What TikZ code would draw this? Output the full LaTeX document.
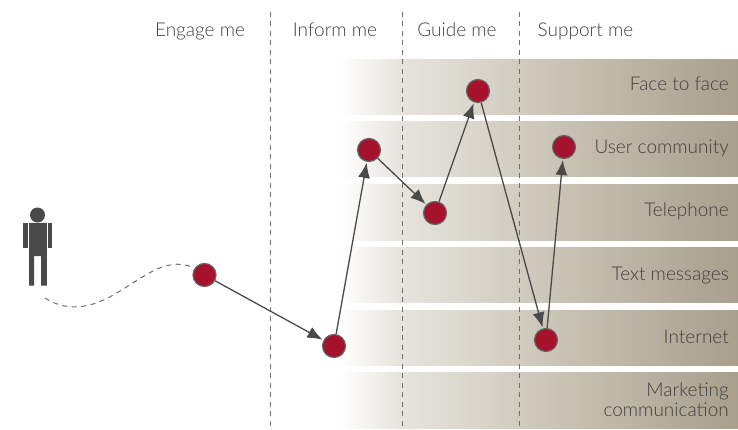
\documentclass[tikz,border=0pt]{standalone}
\usepackage{fontspec}
\setmainfont{Lato Light}
\usetikzlibrary{arrows.meta}
\definecolor{ink}{HTML}{4A4A4A}
\definecolor{label}{HTML}{404040}
\definecolor{rule}{HTML}{707070}
\definecolor{stopA}{HTML}{E6E3DC}
\definecolor{stopB}{HTML}{DEDBD2}
\definecolor{stopD}{HTML}{C5BFB0}
\definecolor{stopC}{HTML}{A89F8C}
\definecolor{dotred}{HTML}{A6122C}
\pgfdeclarehorizontalshading{bandshade}{100bp}{
  color(0bp)=(white); color(25bp)=(white); color(32.8bp)=(stopA); color(38.8bp)=(stopB); color(55bp)=(stopD); color(75bp)=(stopC); color(100bp)=(stopC)}
\tikzset{
  band/.style={shading=bandshade,draw=none},
  divider/.style={draw=rule,line width=1pt,dash pattern=on 5pt off 4.5pt},
  stagehead/.style={text=label,font=\fontsize{19}{22}\selectfont,anchor=base,inner sep=0pt},
  channel/.style={text=label,font=\fontsize{19}{22}\selectfont,anchor=base east,inner sep=0pt},
  touch/.style={circle,fill=dotred,draw=ink!85,line width=1.2pt,minimum size=23pt,inner sep=0pt},
  hop/.style={draw=ink,line width=1.3pt,-{Latex[length=15pt,width=12pt]},shorten >=1pt},
  wander/.style={draw=rule,line width=1pt,dash pattern=on 5pt off 4.5pt},
  figure/.style={fill=ink,draw=none}
}
\begin{document}
\begin{tikzpicture}[x=1pt,y=-1pt]
\useasboundingbox (0,0) rectangle (738,430);
% bands
\fill[band] (340,60) rectangle (738,115);
\fill[band] (340,122) rectangle (738,177);
\fill[band] (340,185) rectangle (738,240);
\fill[band] (340,247) rectangle (738,302);
\fill[band] (340,310) rectangle (738,365);
\fill[band] (340,372) rectangle (738,428);
% stage dividers
\coordinate (d1t) at (270,12); \coordinate (d1b) at (270,428);
\coordinate (d2t) at (402,12); \coordinate (d2b) at (402,428);
\coordinate (d3t) at (519,12); \coordinate (d3b) at (519,428);
\draw[divider] (d1t) -- (d1b);
\draw[divider] (d2t) -- (d2b);
\draw[divider] (d3t) -- (d3b);
% headers
\node[stagehead] (h1) at (200,36.5) {Engage me};
\node[stagehead] (h2) at (335,36.5) {Inform me};
\node[stagehead] (h3) at (457,36.5) {Guide me};
\node[stagehead] (h4) at (585.5,36.5) {Support me};
% channels
\node[channel] (c1) at (729,91) {Face to face};
\node[channel] (c2) at (729,154) {User community};
\node[channel] (c3) at (729,216.5) {Telephone};
\node[channel] (c4) at (729,280) {Text messages};
\node[channel] (c5) at (729,343) {Internet};
\node[channel] (c6a) at (729,396) {Marketing};
\node[channel] (c6b) at (729,416) {communication};
% person
\fill[figure] (37.5,215) circle (7.5);
\fill[figure] (29,223) -- (46.8,223) -- (46.8,285.5) -- (41,285.5) -- (41,256) -- (34,256) -- (34,285.5) -- (29,285.5) -- cycle;
\fill[figure] (23.3,223) rectangle (28,248.3);
\fill[figure] (47.8,223) rectangle (52,248.3);
% touch points
\node[touch] (p1) at (204.5,275) {};
\node[touch] (p2) at (334,346) {};
\node[touch] (p3) at (369,150) {};
\node[touch] (p4) at (435,213) {};
\node[touch] (p5) at (478,91) {};
\node[touch] (p6) at (564,147) {};
\node[touch] (p7) at (546,340) {};
\coordinate (walk) at (45,298);
\draw[wander] (walk) .. controls (62,309) and (85,312) .. (115,294) .. controls (140,280) and (165,256) .. (192,267);
\draw[hop] (p1) -- (p2);
\draw[hop] (p2) -- (p3);
\draw[hop] (p3) -- (p4);
\draw[hop] (p4) -- (p5);
\draw[hop] (p5) -- (p7);
\draw[hop] (p7) -- (p6);
\end{tikzpicture}
\end{document}
